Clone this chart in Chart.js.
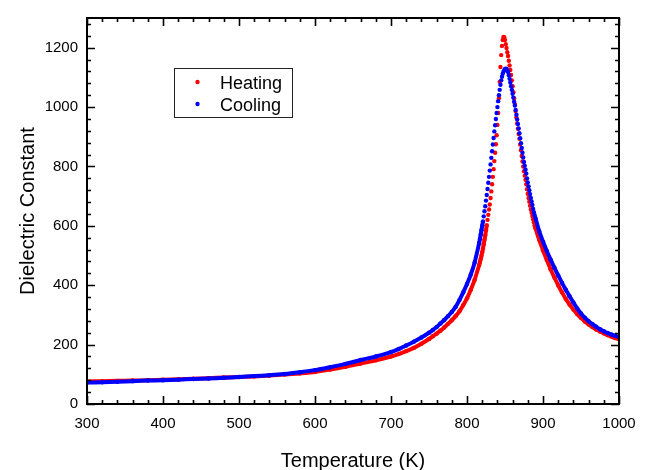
<!DOCTYPE html>
<html>
<head>
<meta charset="utf-8">
<script src="https://cdn.jsdelivr.net/npm/chart.js@4"></script>
<style>
  html, body { margin: 0; padding: 0; background: #fff; }
  #wrap { width: 651px; height: 470px; }
</style>
</head>
<body>
<div id="wrap"><canvas id="chart" width="651" height="470"></canvas></div>
<script>
// temperature grid (K), same for both runs
const temperature = [
  300, 320, 340, 360, 380, 400, 420, 440, 460, 480, 500, 520, 540, 560, 580, 600, 620, 640, 660, 680, 700,
  710, 720, 730, 740, 750, 755, 760, 765, 770, 775, 780, 785, 790, 795, 800, 805, 810,
  816, 817, 818, 819, 820, 821, 822, 823, 824, 825, 826, 827, 828, 829, 830, 831, 832, 833, 834, 835,
  836, 837, 838, 839, 840, 841, 842, 843, 844, 845, 846, 847, 848, 849, 850, 851, 852, 853, 854, 855,
  856, 857, 858, 859, 860, 861, 862, 863, 864, 865, 866, 867, 868, 869, 870, 871, 872, 873, 874, 875,
  876, 877, 878, 879, 880, 881, 882, 883, 884, 885, 886, 887, 888, 889, 890,
  895, 900, 905, 910, 915, 920, 925, 930, 935, 940, 945, 950, 955, 960, 965, 970, 975, 980, 985, 990, 995, 1000
];

const heating = [
  76, 77, 78, 79, 80, 82, 83, 85, 87, 89, 91, 93, 96, 99, 103, 108, 116, 125, 136, 147, 160,
  168, 178, 189, 203, 219, 228, 237, 247, 258, 270, 282, 296, 312, 333, 356, 385, 418,
  468, 478, 488, 499, 511, 524, 538, 553, 568, 585, 602, 620, 637, 655, 672, 694, 716, 740, 765, 791,
  818, 846, 875, 905, 940, 980, 1030, 1085, 1135, 1175, 1206, 1226, 1236, 1235, 1226, 1212, 1199, 1185, 1172, 1156,
  1140, 1125, 1108, 1090, 1070, 1050, 1030, 1010, 987, 965, 945, 927, 909, 893, 874, 855, 835, 817, 800, 784,
  769, 755, 740, 723, 708, 694, 681, 668, 655, 644, 633, 622, 612, 602, 593,
  553, 518, 485, 454, 426, 400, 376, 354, 335, 318, 303, 290, 278, 268, 259, 251, 244, 238, 232, 227, 222, 218
];

const cooling = [
  72, 73, 75, 77, 79, 80, 82, 84, 86, 88, 91, 94, 97, 101, 107, 114, 124, 135, 148, 160, 175,
  185, 197, 210, 224, 240, 249, 259, 271, 283, 296, 310, 327, 350, 376, 404, 436, 476,
  542, 556, 570, 585, 600, 615, 632, 649, 666, 685, 704, 724, 745, 765, 786, 807, 829, 851, 874, 896,
  918, 939, 960, 980, 1000, 1020, 1040, 1058, 1075, 1090, 1102, 1112, 1119, 1124, 1128, 1129, 1128, 1124, 1118, 1107,
  1095, 1083, 1070, 1058, 1045, 1032, 1018, 1005, 990, 974, 958, 943, 928, 912, 895, 878, 862, 846, 830, 815,
  802, 789, 776, 760, 746, 733, 720, 707, 694, 682, 670, 657, 646, 636, 627,
  582, 547, 515, 486, 459, 433, 408, 385, 363, 342, 322, 305, 291, 279, 269, 260, 252, 245, 239, 234, 230, 226
];

const xTicks = [300, 400, 500, 600, 700, 800, 900, 1000];
const yTicks = [0, 200, 400, 600, 800, 1000, 1200];
const xMinorStep = 20;
const yMinorStep = 40;

const FONT = '"Liberation Sans", Arial, sans-serif';

function points(values) {
  return temperature.map((t, i) => ({ x: t, y: values[i] }));
}

// steep part of the peak is shown as separate dots only
function segColor(color) {
  return ctx => (ctx.p0.parsed.y > 600 && ctx.p1.parsed.y > 600) ? 'rgba(0,0,0,0)' : color;
}

const frameTicks = {
  id: 'frameTicks',
  afterDatasetsDraw(chart) {
    const { ctx, chartArea: a, scales } = chart;
    const xs = scales.x, ys = scales.y;
    ctx.save();
    ctx.strokeStyle = '#000';
    ctx.lineWidth = 1.6;
    ctx.beginPath();
    for (let v = xs.min; v <= xs.max; v += xMinorStep) {
      const px = Math.round(xs.getPixelForValue(v)) + 0.5;
      const len = xTicks.includes(v) ? 8 : 4;
      ctx.moveTo(px, a.bottom); ctx.lineTo(px, a.bottom - len);
      ctx.moveTo(px, a.top); ctx.lineTo(px, a.top + len);
    }
    for (let v = ys.min; v <= ys.max; v += yMinorStep) {
      const py = Math.round(ys.getPixelForValue(v)) + 0.5;
      const len = yTicks.includes(v) ? 8 : 4;
      ctx.moveTo(a.left, py); ctx.lineTo(a.left + len, py);
      ctx.moveTo(a.right, py); ctx.lineTo(a.right - len, py);
    }
    ctx.stroke();
    ctx.lineWidth = 2;
    ctx.strokeRect(a.left, a.top, a.right - a.left, a.bottom - a.top);
    ctx.restore();
  }
};

const boxLegend = {
  id: 'boxLegend',
  afterDraw(chart) {
    const ctx = chart.ctx;
    const left = 174, top = 68, w = 118, h = 49;
    ctx.save();
    ctx.fillStyle = '#fff';
    ctx.fillRect(left, top, w, h);
    ctx.strokeStyle = '#222';
    ctx.lineWidth = 1;
    ctx.strokeRect(left + 0.5, top + 0.5, w, h);
    ctx.font = '18px ' + FONT;
    ctx.textBaseline = 'middle';
    const rows = [chart.data.datasets[0], chart.data.datasets[1]];
    rows.forEach((ds, i) => {
      const y = top + 15 + i * 22;
      ctx.fillStyle = ds.pointBackgroundColor;
      ctx.beginPath();
      ctx.arc(197.5, y - 1, 2.2, 0, Math.PI * 2);
      ctx.fill();
      ctx.fillStyle = '#000';
      ctx.fillText(ds.label, 220, y + 1);
    });
    ctx.restore();
  }
};

new Chart(document.getElementById('chart'), {
  type: 'scatter',
  data: {
    datasets: [
      {
        label: 'Heating',
        data: points(heating),
        showLine: true,
        tension: 0.3,
        borderColor: '#ff0000',
        borderWidth: 4,
        segment: { borderColor: segColor('#ff0000') },
        pointRadius: 2.2,
        pointBorderWidth: 0,
        pointBackgroundColor: '#ff0000',
        order: 2
      },
      {
        label: 'Cooling',
        data: points(cooling),
        showLine: true,
        tension: 0.3,
        borderColor: '#0000ff',
        borderWidth: 4,
        segment: { borderColor: segColor('#0000ff') },
        pointRadius: 2.2,
        pointBorderWidth: 0,
        pointBackgroundColor: '#0000ff',
        order: 1
      }
    ]
  },
  options: {
    responsive: false,
    animation: false,
    events: [],
    layout: { padding: { left: 0, right: 32, top: 13, bottom: 0 } },
    plugins: { legend: { display: false }, tooltip: { enabled: false } },
    scales: {
      x: {
        type: 'linear',
        min: 300,
        max: 1000,
        afterBuildTicks: s => { s.ticks = xTicks.map(v => ({ value: v })); },
        afterFit: s => { s.height = 66; },
        grid: { display: false, drawTicks: false },
        border: { display: false },
        ticks: { color: '#000', padding: 11, maxRotation: 0, font: { family: FONT, size: 15 }, callback: v => String(v) },
        title: { display: true, text: 'Temperature (K)', color: '#000', padding: -3, font: { family: FONT, size: 20 } }
      },
      y: {
        min: 0,
        max: 1300,
        afterBuildTicks: s => { s.ticks = yTicks.map(v => ({ value: v })); },
        afterFit: s => { s.width = 87; },
        grid: { display: false, drawTicks: false },
        border: { display: false },
        ticks: { color: '#000', padding: 9, font: { family: FONT, size: 15 }, callback: v => String(v) },
        title: { display: true, text: 'Dielectric Constant', color: '#000', padding: 16, font: { family: FONT, size: 20 } }
      }
    }
  },
  plugins: [frameTicks, boxLegend]
});
</script>
</body>
</html>
